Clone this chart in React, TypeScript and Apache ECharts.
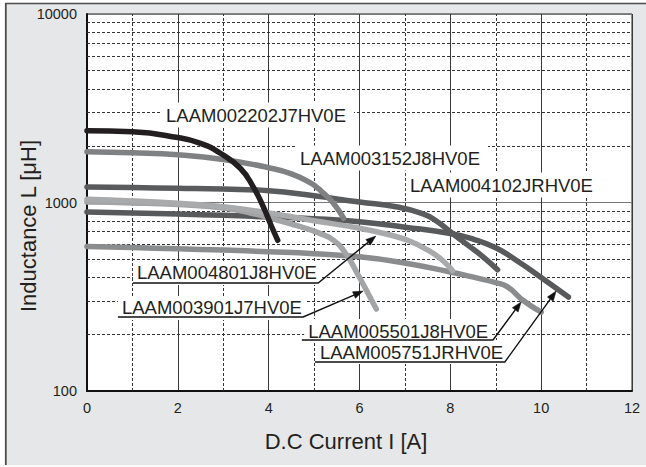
import React, { useEffect, useRef } from "react";
import * as echarts from "echarts";

const FONT = '"Liberation Sans", Arial, Helvetica, sans-serif';
const TEXT = "#231f20";

// grid helpers
const xOddGrid = [1, 3, 5, 7, 9, 11];
const yMinorGrid = [200, 300, 400, 500, 600, 700, 800, 900, 2000, 3000, 4000, 5000, 6000, 7000, 8000, 9000];

// curves: [current A, inductance uH]
const c002202 = [[0, 2400], [1, 2370], [2, 2210], [2.5, 2060], [2.93, 1830], [3.375, 1520], [3.66, 1210], [3.88, 950], [4.05, 760], [4.2, 630]];
const c003152 = [[0, 1860], [1, 1835], [2, 1790], [3, 1690], [4, 1530], [4.5, 1420], [4.92, 1270], [5.1, 1180], [5.35, 1040], [5.51, 930], [5.65, 825]];
const c004102 = [[0, 1208], [1, 1200], [2, 1190], [3, 1178], [4, 1155], [5, 1085], [6, 1005], [6.8, 950], [7.4, 870], [7.7, 795], [8, 700], [8.4, 590], [8.7, 520], [9.04, 440]];
const c004801 = [[0, 1040], [1, 1020], [2, 990], [3, 950], [4, 880], [5, 800], [6, 730], [6.7, 670], [7.1, 625], [7.5, 560], [7.8, 500], [8.05, 435]];
const c003901 = [[0, 1005], [1, 995], [2, 975], [3, 935], [3.6, 880], [4.2, 805], [4.7, 745], [5.1, 690], [5.43, 630], [5.7, 535], [6.0, 400], [6.2, 325], [6.37, 272]];
const c005501 = [[0, 585], [1, 577], [2, 568], [3, 559], [4, 548], [5, 535], [6, 515], [6.9, 482], [8, 428], [8.6, 397], [9.0, 376], [9.25, 358], [9.62, 300], [10, 262]];
const c005751 = [[0, 890], [1, 880], [2, 868], [3, 855], [4, 838], [5, 820], [6, 790], [7, 740], [8, 685], [8.5, 640], [9, 575], [9.5, 485], [10, 400], [10.6, 315]];

const curves = [
  { name: "LAAM005501J8HV0E", data: c005501, color: "#8b8c8e" },
  { name: "LAAM005751JRHV0E", data: c005751, color: "#58595b" },
  { name: "LAAM003901J7HV0E", data: c003901, color: "#a3a4a6" },
  { name: "LAAM004801J8HV0E", data: c004801, color: "#a9aaac" },
  { name: "LAAM004102JRHV0E", data: c004102, color: "#5a5b5d" },
  { name: "LAAM003152J8HV0E", data: c003152, color: "#808183" },
  { name: "LAAM002202J7HV0E", data: c002202, color: "#231f20" },
];

// annotation positions in data coordinates
const plainLabels = [
  { text: "LAAM002202J7HV0E", at: [1.74, 2910] },
  { text: "LAAM003152J8HV0E", at: [4.69, 1722] },
  { text: "LAAM004102JRHV0E", at: [7.11, 1238] },
];
const arrowLabels = [
  { text: "LAAM004801J8HV0E", at: [1.1, 423], from: [1.01, 374], to: [5.09, 374], tip: [6.36, 664] },
  { text: "LAAM003901J7HV0E", at: [0.77, 276], from: [0.68, 247], to: [4.76, 247], tip: [6.08, 339] },
  { text: "LAAM005501J8HV0E", at: [4.87, 208], from: [4.73, 186.5], to: [8.94, 186.5], tip: [9.56, 297] },
  { text: "LAAM005751JRHV0E", at: [5.13, 161], from: [5.02, 142.5], to: [9.2, 142.5], tip: [10.33, 339] },
];

export default function App() {
  const ref = useRef<HTMLDivElement>(null);
  useEffect(() => {
    const el = ref.current!;
    const chart = echarts.init(el, null, { renderer: "svg" });
    const series: any[] = [
      {
        type: "line",
        name: "grid",
        data: [[0, 100]],
        symbol: "none",
        showSymbol: false,
        lineStyle: { width: 0, opacity: 0 },
        silent: true,
        z: 1,
        markLine: {
          silent: true,
          symbol: ["none", "none"],
          z: 1,
          label: { show: false },
          emphasis: { disabled: true },
          lineStyle: { type: [3, 2], color: "#333", width: 1 },
          data: [
            ...xOddGrid.map((v) => ({ xAxis: v })),
            ...yMinorGrid.map((v) => ({ yAxis: v })),
          ],
        },
      },
      ...curves.map((c) => ({
        type: "line",
        name: c.name,
        data: c.data,
        smooth: 0.5,
        symbol: "none",
        showSymbol: false,
        silent: true,
        z: 3,
        lineStyle: { color: c.color, width: 5.5, cap: "round", join: "round" },
      })),
    ];
    chart.setOption({
      animation: false,
      backgroundColor: "#e6e7e8",
      grid: {
        left: 87,
        right: 14,
        top: 14,
        bottom: 76,
        show: true,
        backgroundColor: "#ffffff",
        borderColor: "#222",
        borderWidth: 1,
      },
      xAxis: {
        type: "value",
        min: 0,
        max: 12,
        interval: 2,
        axisLine: { show: true, lineStyle: { color: "#111", width: 2 } },
        axisTick: { show: false },
        axisLabel: { color: TEXT, fontSize: 14.5, fontFamily: FONT, margin: 9 },
        splitLine: { show: true, lineStyle: { color: "#3a3a3a", width: 1 } },
      },
      yAxis: {
        type: "log",
        logBase: 10,
        min: 100,
        max: 10000,
        axisLine: { show: true, lineStyle: { color: "#111", width: 2 } },
        axisTick: { show: false },
        axisLabel: {
          color: TEXT,
          fontSize: 14.5,
          fontFamily: FONT,
          margin: 10,
          formatter: (v: number) => String(Math.round(v)),
        },
        splitLine: { show: true, lineStyle: { color: "#777", width: 1 } },
      },
      series,
    });

    const toPx = (p: number[]) => chart.convertToPixel({ gridIndex: 0 }, p) as number[];
    const elements: any[] = [
      { type: "rect", shape: { x: 0, y: 0, width: 646, height: 3 }, style: { fill: "#fff" }, z: 50, silent: true },
      { type: "rect", shape: { x: 0, y: 0, width: 5, height: 467 }, style: { fill: "#fff" }, z: 50, silent: true },
      { type: "rect", shape: { x: 0, y: 465, width: 646, height: 2 }, style: { fill: "#fafafa" }, z: 50, silent: true },
      { type: "line", shape: { x1: 5, y1: 3.5, x2: 646, y2: 3.5 }, style: { stroke: "#4d4d4d", lineWidth: 1.5 }, z: 51, silent: true },
      { type: "line", shape: { x1: 5.8, y1: 3, x2: 5.8, y2: 465 }, style: { stroke: "#4d4d4d", lineWidth: 1.8 }, z: 51, silent: true },
      {
        type: "text",
        x: 346,
        y: 441,
        style: { text: "D.C Current I [A]", fontSize: 22, fontFamily: FONT, fill: TEXT, align: "center", verticalAlign: "middle" },
        z: 51,
      },
      {
        type: "text",
        x: 28,
        y: 226,
        rotation: Math.PI / 2,
        style: { text: "Inductance L [μH]", fontSize: 22, fontFamily: FONT, fill: TEXT, align: "center", verticalAlign: "middle" },
        z: 51,
      },
    ];
    plainLabels.forEach((l) => {
      const p = toPx(l.at);
      elements.push({
        type: "text",
        x: p[0] - 4,
        y: p[1],
        z: 20,
        style: {
          text: l.text,
          fontSize: 18.5,
          fontFamily: FONT,
          fill: TEXT,
          verticalAlign: "middle",
          align: "left",
          backgroundColor: "#fff",
          padding: [3, 8, 3, 4],
        },
      });
    });
    arrowLabels.forEach((l) => {
      const p = toPx(l.at);
      const a = toPx(l.from);
      const b = toPx(l.to);
      const t = toPx(l.tip);
      elements.push({
        type: "text",
        x: p[0] - 4,
        y: p[1],
        z: 20,
        style: {
          text: l.text,
          fontSize: 18.5,
          fontFamily: FONT,
          fill: TEXT,
          verticalAlign: "middle",
          align: "left",
          backgroundColor: "#fff",
          padding: [3, 4, 2, 4],
        },
      });
      const dx = t[0] - b[0];
      const dy = t[1] - b[1];
      const len = Math.hypot(dx, dy);
      const ux = dx / len;
      const uy = dy / len;
      const L = 10;
      const W = 3.6;
      const base = [t[0] - ux * L, t[1] - uy * L];
      elements.push({
        type: "polyline",
        z: 21,
        shape: { points: [a, b, base] },
        style: { stroke: "#111", lineWidth: 1.4, fill: "none" },
      });
      elements.push({
        type: "polygon",
        z: 21,
        shape: {
          points: [
            t,
            [base[0] - uy * W, base[1] + ux * W],
            [base[0] + uy * W, base[1] - ux * W],
          ],
        },
        style: { fill: "#111", stroke: "#111", lineWidth: 0.5 },
      });
    });
    chart.setOption({ graphic: { elements } });
    return () => chart.dispose();
  }, []);
  return <div ref={ref} style={{ position: "fixed", left: 0, top: 0, width: 646, height: 467 }} />;
}
